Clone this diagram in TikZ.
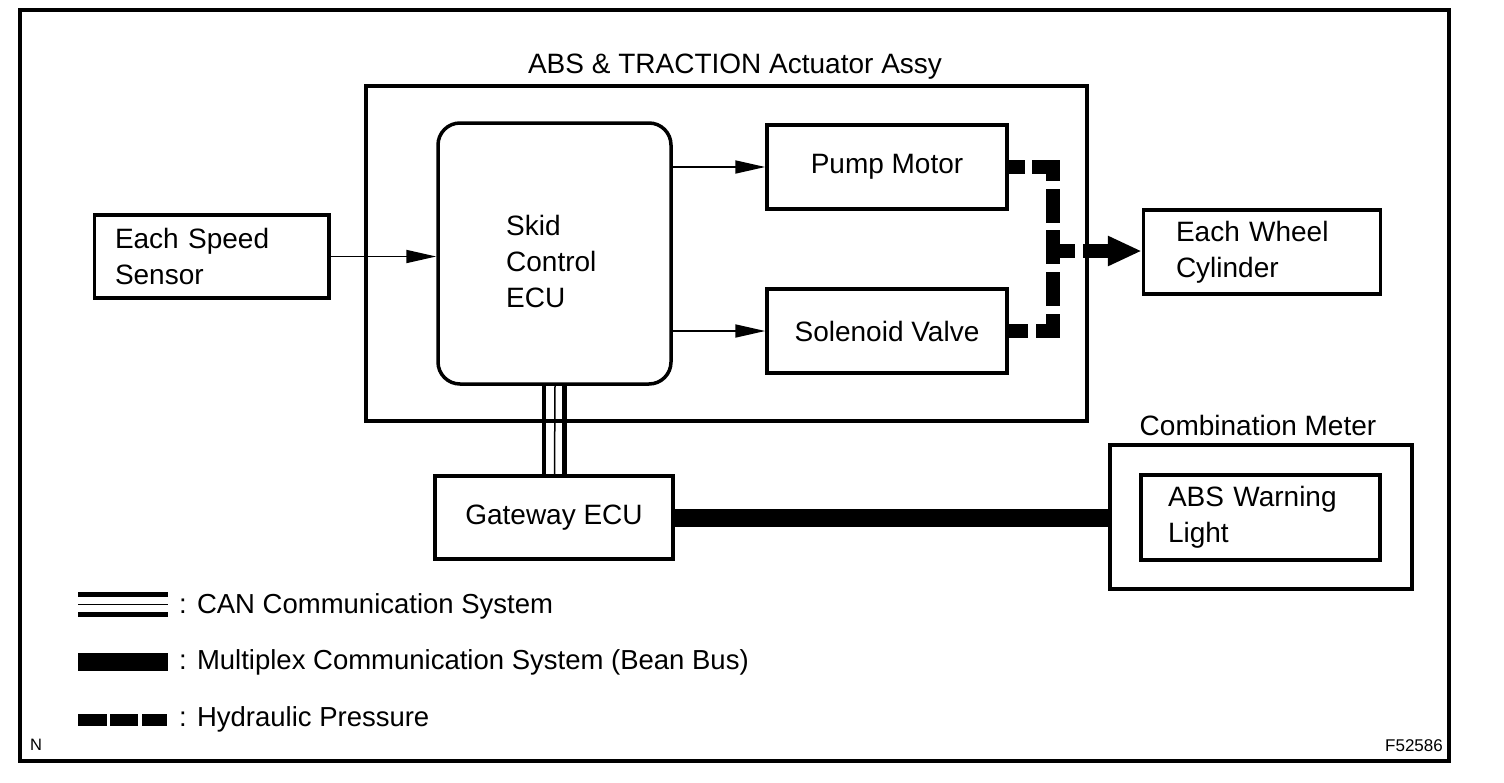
\documentclass[tikz,border=0pt]{standalone}
\usepackage{fontspec}
\setmainfont{Liberation Sans}
\usetikzlibrary{arrows.meta}
\newcommand\mainfs{\fontsize{28}{36}\selectfont}
\newcommand\legfs{\fontsize{27.5}{36}\selectfont}
\begin{document}
\begin{tikzpicture}[x=1pt,y=-1pt,
  box/.style={draw, line width=3.5pt, inner sep=0pt, font=\mainfs},
  lbl/.style={inner sep=0pt, font=\mainfs},
  leg/.style={inner sep=0pt, font=\legfs, anchor=west},
  sig/.style={line width=1.8pt, -{Triangle[length=30pt,width=13pt]}},
  hyd/.style={line width=14.5pt, line join=miter, line cap=butt},
  hydarrow/.style={line width=14.5pt, -{Triangle[length=34pt,width=28pt]}},
  canthick/.style={line width=4.5pt},
  canthin/.style={line width=1.5pt},
  bus/.style={line width=18pt}]
\useasboundingbox (0,0) rectangle (1504,782);
% outer frame
\draw[line width=4pt] (20,10) rectangle (1449,761);

% actuator assy
\node[box, minimum width=721, minimum height=335] (assy) at (726.5,253.5) {};
\node[lbl] (assyt) at (735,67) {ABS \& TRACTION Actuator Assy};

% ECU
\node[box, rounded corners=22pt, minimum width=233, minimum height=261] (ecu) at (554.5,253.5) {};
\node[lbl, anchor=west, align=left] (ecut) at (506,261) {Skid\\Control\\ECU};

% pump & solenoid
\node[box, minimum width=240, minimum height=84] (pump) at (887,167) {Pump Motor};
\node[box, minimum width=240, minimum height=84] (sol) at (887,331) {Solenoid Valve};

% speed sensor
\node[box, minimum width=234.5, minimum height=83, text width=193.5, align=left] (speed) at (211.75,256.5) {Each Speed\\Sensor};

% wheel cylinder
\node[box, minimum width=237, minimum height=84, text width=172, align=left] (wheel) at (1262,252) {Each Wheel\\Cylinder};

% gateway
\node[box, minimum width=238, minimum height=83] (gw) at (554,517.5) {Gateway ECU};

% combination meter
\node[box, minimum width=302, minimum height=144] (meter) at (1261,517) {};
\node[lbl] (metert) at (1258,425) {Combination Meter};
\node[box, minimum width=239, minimum height=85, text width=185, align=left] (light) at (1260.5,517.5) {ABS Warning\\Light};

% signal arrows
\draw[sig] (speed.east) -- (speed.east -| ecu.west);
\draw[sig] (pump.west -| ecu.east) -- (pump.west);
\draw[sig] (sol.west -| ecu.east) -- (sol.west);

% CAN
\draw[canthick] ([xshift=-10.5pt]ecu.south) -- ([xshift=-10pt]gw.north);
\draw[canthin] ([xshift=0.5pt]ecu.south) -- ([xshift=0.5pt]gw.north);
\draw[canthick] ([xshift=10pt]ecu.south) -- ([xshift=10.5pt]gw.north);

% multiplex bus
\draw[bus] (gw.east) -- (gw.east -| meter.west);

% hydraulic
\coordinate (hc1) at (1053,167);
\coordinate (hc2) at (1053,331);
\coordinate (tee) at (1053,251);
\coordinate (stub) at (1075,251);
\coordinate (hstart) at (1083,251);
\draw[hyd, dash pattern=on 16.5pt off 7pt on 35pt off 8pt on 34pt off 7pt on 34pt off 8pt on 34pt off 8pt on 34pt off 8pt on 40pt off 0pt]
  (pump.east) -- (hc1) -- (hc2) -- (sol.east);
\draw[hyd] (tee) -- (stub);
\draw[hydarrow] (hstart) -- (hstart -| wheel.west);

% legend
\fill (78,592) rectangle (168,596.5);
\fill (78,603.5) rectangle (168,605);
\fill (78,612) rectangle (168,616.5);
\node[leg] (l1) at (179,606) {: CAN Communication System};
\fill (78,653) rectangle (168,671);
\node[leg] (l2) at (179,662) {: Multiplex Communication System (Bean Bus)};
\fill (78,714) rectangle (107,726);
\fill (110,714) rectangle (137.5,726);
\fill (141.5,714) rectangle (167,726);
\node[leg] (l3) at (179,719) {: Hydraulic Pressure};

% corner labels
\node[inner sep=0pt, font=\fontsize{16.5}{18}\selectfont] (nn) at (36,745) {N};
\node[inner sep=0pt, font=\fontsize{17}{18}\selectfont, anchor=east] (fig) at (1443,746) {F52586};
\end{tikzpicture}
\end{document}
